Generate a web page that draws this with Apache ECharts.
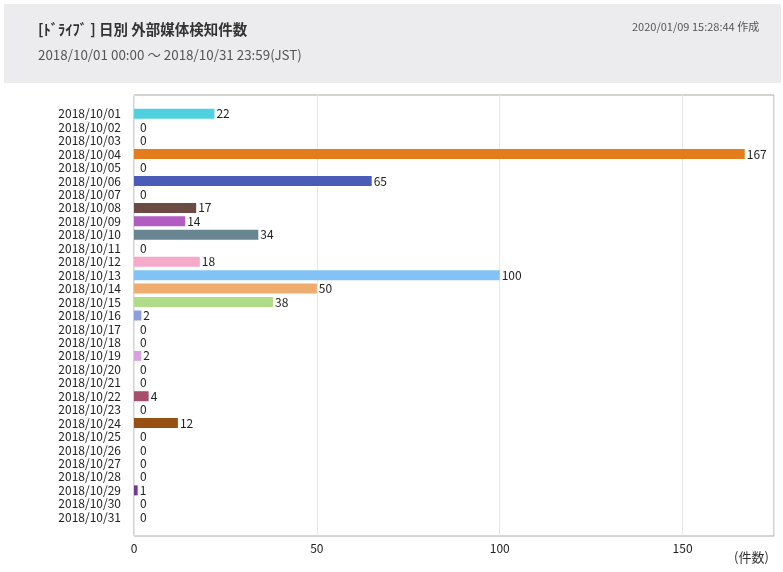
<!DOCTYPE html>
<html>
<head>
<meta charset="utf-8">
<script src="https://cdn.jsdelivr.net/npm/echarts@6/dist/echarts.min.js"></script>
<style>
  html, body { margin: 0; padding: 0; background: #fff; }
  #chart { width: 783px; height: 572px; }
</style>
</head>
<body>
<div id="chart"></div>
<script>
// 日別 外部媒体検知件数
var days = [
    '2018/10/01', '2018/10/02', '2018/10/03', '2018/10/04', '2018/10/05',
    '2018/10/06', '2018/10/07', '2018/10/08', '2018/10/09', '2018/10/10',
    '2018/10/11', '2018/10/12', '2018/10/13', '2018/10/14', '2018/10/15',
    '2018/10/16', '2018/10/17', '2018/10/18', '2018/10/19', '2018/10/20',
    '2018/10/21', '2018/10/22', '2018/10/23', '2018/10/24', '2018/10/25',
    '2018/10/26', '2018/10/27', '2018/10/28', '2018/10/29', '2018/10/30',
    '2018/10/31'
];
var counts = [
    22, 0, 0, 167, 0, 65, 0, 17, 14, 34,
    0, 18, 100, 50, 38, 2, 0, 0, 2, 0,
    0, 4, 0, 12, 0, 0, 0, 0, 1, 0,
    0
];
var barColors = [
    '#4fd0e1', '#cccccc', '#cccccc', '#e37c1c', '#cccccc',
    '#4b5bb8', '#cccccc', '#6b4c44', '#b15bc3', '#698591',
    '#cccccc', '#f6a9c8', '#82c3f6', '#eead6f', '#b1dc87',
    '#8c9edb', '#cccccc', '#cccccc', '#d8a2e0', '#cccccc',
    '#cccccc', '#a84d6b', '#cccccc', '#974f12', '#cccccc',
    '#cccccc', '#cccccc', '#cccccc', '#6f3a8f', '#cccccc',
    '#cccccc'
];

var FONT = '"Noto Sans CJK JP", sans-serif';
var JP = '"Noto Sans CJK JP", sans-serif';

var chart = echarts.init(document.getElementById('chart'));

var barData = counts.map(function(v, i) {
    return {
        value: v,
        itemStyle: { color: barColors[i] },
        label: { distance: v === 0 ? 6 : 2 }
    };
});

var option = {
    animation: false,
    backgroundColor: '#fff',
    graphic: [{
        type: 'rect',
        z: -10,
        shape: { x: 4, y: 4, width: 777, height: 79 },
        style: { fill: '#ececee' }
    }],
    title: [{
        text: '[ﾄﾞﾗｲﾌﾞ ] 日別 外部媒体検知件数',
        left: 33, top: 17,
        textStyle: { fontFamily: JP, fontSize: 14.5, fontWeight: 'bold', color: '#333' }
    }, {
        text: '2018/10/01 00:00 〜 2018/10/31 23:59(JST)',
        left: 33, top: 43,
        textStyle: { fontFamily: JP, fontSize: 13.4, fontWeight: 'normal', color: '#555' }
    }, {
        text: '2020/01/09 15:28:44 作成',
        left: 627, top: 16,
        textStyle: { fontFamily: JP, fontSize: 11, fontWeight: 'normal', color: '#555' }
    }, {
        text: '(件数)',
        left: 729, top: 546,
        textStyle: { fontFamily: JP, fontSize: 13, fontWeight: 'normal', color: '#333' }
    }],
    grid: [{
        left: 134, top: 95, width: 640, height: 441,
        show: true, borderColor: '#a8a8a8', borderWidth: 1, backgroundColor: '#fff'
    }, {
        left: 134, top: 107, width: 640, height: 417
    }],
    xAxis: [{
        gridIndex: 0,
        type: 'value', min: 0, max: 175, interval: 50,
        axisLine: { show: false }, axisTick: { show: false },
        splitLine: { lineStyle: { color: '#e6e6e6' } },
        axisLabel: {
            showMaxLabel: false, margin: 6,
            fontFamily: FONT, fontSize: 12, color: '#222'
        }
    }, {
        gridIndex: 1,
        type: 'value', min: 0, max: 175,
        show: false
    }],
    yAxis: [{
        gridIndex: 0, type: 'category', data: days, show: false
    }, {
        gridIndex: 1, type: 'category', data: days, inverse: true,
        axisLine: { show: false }, axisTick: { show: false },
        axisLabel: {
            interval: 0, margin: 13,
            fontFamily: FONT, fontSize: 12, color: '#222'
        }
    }],
    series: [{
        type: 'bar',
        xAxisIndex: 1, yAxisIndex: 1,
        barWidth: 10,
        data: barData,
        label: {
            show: true, position: 'right',
            fontFamily: FONT, fontSize: 12, color: '#222'
        }
    }]
};

chart.setOption(option);
</script>
</body>
</html>
